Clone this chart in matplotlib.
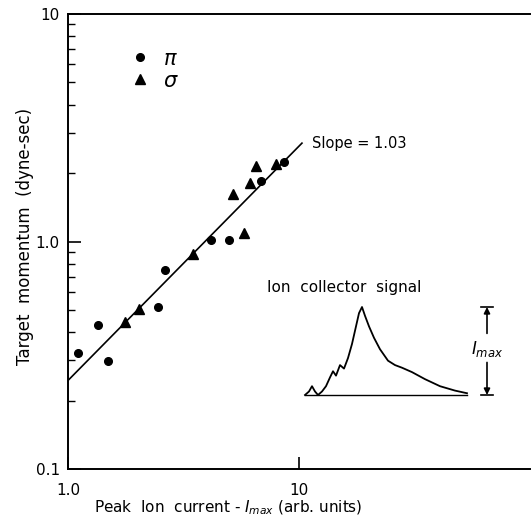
import matplotlib.pyplot as plt
import numpy as np
from matplotlib.lines import Line2D
from matplotlib.ticker import LogLocator, FixedLocator, FixedFormatter, NullLocator

plt.rcParams['font.family'] = ['DejaVu Sans']
plt.rcParams['mathtext.fontset'] = 'dejavusans'

# Peak ion current (arb. units) vs. target momentum (dyne-sec)
pi_current = [1.11, 1.35, 1.49, 2.46, 2.64, 4.17, 4.98, 6.87, 8.61]
pi_momentum = [0.323, 0.428, 0.298, 0.514, 0.748, 1.02, 1.02, 1.85, 2.24]
sigma_current = [1.76, 2.03, 3.49, 5.20, 5.80, 6.14, 6.51, 7.95]
sigma_momentum = [0.443, 0.503, 0.877, 1.62, 1.09, 1.81, 2.14, 2.19]

# fitted line: momentum = fit_coeff * current ** fit_slope
fit_slope = 1.03
fit_coeff = 0.245
fit_range = [1.0, 10.3]

# sketch of the ion collector signal (arb. time, current normalised to I_max)
signal_time = [5, 9, 12, 15, 18, 22, 26, 30, 33, 36, 40, 44, 48, 52, 56, 59, 62,
               65, 69, 74, 80, 88, 95, 102, 112, 125, 140, 155, 167]
signal_amp = [0.0, 0.04, 0.10, 0.04, 0.0, 0.04, 0.10, 0.20, 0.27, 0.22, 0.34, 0.30,
              0.42, 0.58, 0.78, 0.93, 1.0, 0.90, 0.78, 0.65, 0.52, 0.39, 0.34, 0.31,
              0.26, 0.18, 0.10, 0.05, 0.02]

x_ticks = [1.0, 10.0]
x_tick_labels = ['1.0', '10']
y_ticks = [0.1, 1.0, 10.0]
y_tick_labels = ['0.1', '1.0', '10']

fig = plt.figure(figsize=(5.32, 5.19), dpi=100)
ax = fig.add_axes([68 / 532, 1 - 469 / 519, 462 / 532, 455 / 519])

ax.set_xscale('log')
ax.set_yscale('log')
ax.set_xlim(1.0, 100.0)
ax.set_ylim(0.1, 10.0)

# data points
ax.plot(pi_current, pi_momentum, 'o', color='black', markersize=5.5, linestyle='none')
ax.plot(sigma_current, sigma_momentum, '^', color='black', markersize=7, linestyle='none')

# fit line
fit_x = np.geomspace(fit_range[0], fit_range[1], 50)
ax.plot(fit_x, fit_coeff * fit_x ** fit_slope, color='black', linewidth=1.2)
ax.text(fit_range[1] * 1.1, fit_coeff * fit_range[1] ** fit_slope, 'Slope = 1.03',
        fontsize=10.5, va='center', ha='left')

# axes styling
for side in ['left', 'top', 'bottom']:
    ax.spines[side].set_linewidth(1.4)
ax.spines['right'].set_visible(False)

ax.xaxis.set_major_locator(FixedLocator(x_ticks))
ax.xaxis.set_major_formatter(FixedFormatter(x_tick_labels))
ax.xaxis.set_minor_locator(NullLocator())
ax.yaxis.set_major_locator(FixedLocator(y_ticks))
ax.yaxis.set_major_formatter(FixedFormatter(y_tick_labels))
ax.yaxis.set_minor_locator(LogLocator(base=10, subs=np.arange(2, 10)))
ax.yaxis.set_minor_formatter(FixedFormatter([]))

ax.tick_params(axis='both', which='major', direction='in', length=9, width=1.2,
               labelsize=11, top=False, right=False)
ax.tick_params(axis='x', which='major', pad=10)
ax.tick_params(axis='y', which='major', pad=6)
ax.tick_params(axis='y', which='minor', direction='in', length=5, width=1.0)

ax.set_xlabel(r'Peak  Ion  current - $I_{max}$ (arb. units)', fontsize=11, va='center')
ax.xaxis.set_label_coords(0.346, -0.086)
ax.set_ylabel('Target  momentum  (dyne-sec)', fontsize=12, va='center')
ax.yaxis.set_label_coords(-0.093, 0.512)

# legend
handles = [
    Line2D([], [], marker='o', color='black', markersize=5.5, linestyle='none'),
    Line2D([], [], marker='^', color='black', markersize=7, linestyle='none'),
]
ax.legend(handles, [r'$\pi$', r'$\sigma$'], loc='upper left',
          bbox_to_anchor=(0.092, 0.965), frameon=False, fontsize=15,
          handlelength=1.0, handletextpad=0.6, labelspacing=0.1)

# inset: ion collector signal
ax_in = fig.add_axes([300 / 532, 1 - 400 / 519, 200 / 532, 120 / 519])
ax_in.set_xlim(0, 200)
ax_in.set_ylim(-5 / 88, 115 / 88)
ax_in.axis('off')
ax_in.plot(signal_time, signal_amp, color='black', linewidth=1.3)
ax_in.plot([signal_time[0], signal_time[-1]], [0, 0], color='black', linewidth=1.0)
ax_in.text(44, 1.216, 'Ion  collector  signal', fontsize=11, ha='center', va='center')

# I_max marker
imax = max(signal_amp)
arrow_t = 187
bar_half = 6
ax_in.plot([arrow_t - bar_half, arrow_t + bar_half], [imax, imax], color='black', linewidth=1.2)
ax_in.plot([arrow_t - bar_half, arrow_t + bar_half], [0, 0], color='black', linewidth=1.2)
ax_in.annotate('', xy=(arrow_t, imax), xytext=(arrow_t, 0.70 * imax),
               arrowprops=dict(arrowstyle='-|>', color='black', lw=1.2, mutation_scale=9,
                               shrinkA=0, shrinkB=0))
ax_in.annotate('', xy=(arrow_t, 0), xytext=(arrow_t, 0.37 * imax),
               arrowprops=dict(arrowstyle='-|>', color='black', lw=1.2, mutation_scale=9,
                               shrinkA=0, shrinkB=0))
ax_in.text(arrow_t, 0.52 * imax, r'$I_{max}$', fontsize=12, ha='center', va='center')

fig.savefig('out.png', dpi=100)
